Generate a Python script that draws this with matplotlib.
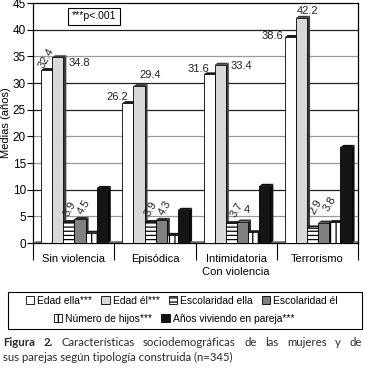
import matplotlib
matplotlib.use("Agg")
import matplotlib.pyplot as plt
from matplotlib.patches import Rectangle, Polygon
import numpy as np

plt.rcParams['font.family'] = ['Liberation Sans', 'DejaVu Sans']
plt.rcParams['hatch.linewidth'] = 0.9

categories = ["Sin violencia", "Episódica", "Intimidatoria", "Terrorismo"]
series_names = ["Edad ella***", "Edad él***", "Escolaridad ella",
                "Escolaridad él", "Número de hijos***", "Años viviendo en pareja***"]
edad_ella = [32.4, 26.2, 31.6, 38.6]
edad_el = [34.8, 29.4, 33.4, 42.2]
escol_ella = [3.9, 3.9, 3.7, 2.9]
escol_el = [4.5, 4.3, 4.0, 3.8]
num_hijos = [1.9, 1.5, 2.0, 3.9]
anios_pareja = [10.3, 6.2, 10.7, 18.0]
values = [edad_ella, edad_el, escol_ella, escol_el, num_hijos, anios_pareja]
yticks = [0, 5, 10, 15, 20, 25, 30, 35, 40, 45]

# styles per series
faces = ['white', '#d8d8d8', 'white', '#808080', 'white', '#151515']
hatches = [None, None, '----', None, '|||', None]
sides = ['#1a1a1a', '#3c3c3c', '#1a1a1a', '#2a2a2a', '#1a1a1a', '#101010']

# label placement (series, category, dx pt, dy pt, rotation, ha)
label_spec = [
    (0, 0, 0, 9, 60, 'center'),
    (1, 0, 7.5, -4, 0, 'left'),
    (2, 0, 0.5, 9.5, 60, 'center'),
    (3, 0, 3, 8.5, 60, 'center'),
    (0, 1, 0.5, 4.5, 0, 'right'),
    (1, 1, 8, 8, 0, 'center'),
    (2, 1, 0.5, 9.5, 60, 'center'),
    (3, 1, 3, 8.5, 60, 'center'),
    (0, 2, 0.5, 4, 0, 'right'),
    (1, 2, 7.5, -1, 0, 'left'),
    (2, 2, 4, 10, 60, 'center'),
    (3, 2, 3, 8.5, 0, 'center'),
    (0, 3, -5, 1, 0, 'right'),
    (1, 3, 4.5, 5, 0, 'center'),
    (2, 3, 2.5, 15, 60, 'center'),
    (3, 3, 4.5, 14, 60, 'center'),
]

fig = plt.figure(figsize=(3.66, 3.68), dpi=100)
ax = fig.add_axes([33/366, 1-243/368, 325/366, 240/368])

ax.set_xlim(0.5, 4.5)
ax.set_ylim(0, 45)

# gridlines, some darker than others
grid_col = {5: '#9a9a9a', 10: '#222', 15: '#9a9a9a', 20: '#9a9a9a',
            25: '#222', 30: '#222', 35: '#9a9a9a', 40: '#222'}
for g, c in grid_col.items():
    ax.axhline(g, color=c, lw=0.9, zorder=0)

# floor
ax.add_patch(Polygon([(0.5, 0), (4.5, 0), (4.54, 0.35), (0.54, 0.35)],
                     closed=True, facecolor='#777', edgecolor='none', zorder=1))

w = 0.137
dx = 0.037
dy = 0.4
z = 2
for ci in range(len(categories)):
    for si, vals in enumerate(values):
        x0 = ci + 1 - 0.401 + si * w
        h = vals[ci]
        ax.add_patch(Polygon([(x0 + w, 0), (x0 + w + dx, dy), (x0 + w + dx, h + dy), (x0 + w, h)],
                             closed=True, facecolor=sides[si], edgecolor='none', zorder=z))
        ax.add_patch(Polygon([(x0, h), (x0 + w, h), (x0 + w + dx, h + dy), (x0 + dx, h + dy)],
                             closed=True, facecolor=sides[si], edgecolor='none', zorder=z))
        ax.add_patch(Rectangle((x0, 0), w, h, facecolor=faces[si], edgecolor='black',
                               hatch=hatches[si], lw=0.6, zorder=z + 0.5))
        z += 1

for si, ci, ox, oy, rot, ha in label_spec:
    x0 = ci + 1 - 0.401 + si * w
    ax.annotate(f"{values[si][ci]:g}", xy=(x0 + w / 2, values[si][ci]),
                xytext=(ox, oy), textcoords='offset points',
                ha=ha, va='center', rotation=rot, rotation_mode='anchor',
                fontsize=8, color='#222', zorder=100)

ax.set_yticks(yticks)
ax.tick_params(axis='y', labelsize=8.5, length=4, width=0.8, pad=1)
ax.set_xticks([1, 2, 3, 4])
ax.set_xticklabels(categories, fontsize=8)
ax.tick_params(axis='x', length=0, pad=8)
ax.set_xticks([0.5, 1.5, 2.5, 3.5, 4.5], minor=True)
ax.tick_params(axis='x', which='minor', length=12, width=0.8)
for sp in ax.spines.values():
    sp.set_linewidth(0.9)
ax.set_ylabel("Medias (años)", fontsize=8, labelpad=1)

ax.text(3, -5.5, "Con violencia", ha='center', va='center', fontsize=8)

ax.text(0.12, 0.965, "***p<.001", transform=ax.transAxes, fontsize=7.5,
        ha='left', va='top',
        bbox=dict(boxstyle='square,pad=0.35', facecolor='white', edgecolor='black', lw=0.8))

# legend box
fig.patches.append(Rectangle((8/366, 1-329/368), 354/366, 37/368, transform=fig.transFigure,
                             facecolor='white', edgecolor='black', lw=0.8))
handles = [Rectangle((0, 0), 1, 1, facecolor=faces[i], edgecolor='black',
                     hatch=hatches[i], lw=0.6) for i in range(6)]
fig.legend(handles[:4], series_names[:4], loc='center', ncol=4,
           bbox_to_anchor=(182/366, 1-301/368), frameon=False, fontsize=7.4,
           handlelength=0.8, handleheight=0.8, handletextpad=0.3, columnspacing=0.9,
           borderpad=0, borderaxespad=0)
fig.legend(handles[4:], series_names[4:], loc='center', ncol=2,
           bbox_to_anchor=(174/366, 1-319/368), frameon=False, fontsize=7.4,
           handlelength=0.8, handleheight=0.8, handletextpad=0.3, columnspacing=0.9,
           borderpad=0, borderaxespad=0)

# caption, first line justified to the figure width
cap_font = dict(fontsize=8.2, family='Lato', va='center', color='#2a2a2a')
line1 = ["Figura", "2.", "Características", "sociodemográficas", "de", "las",
         "mujeres", "y", "de"]
renderer = fig.canvas.get_renderer()
word_texts = []
for i, word in enumerate(line1):
    t = fig.text(0, 1-342/368, word, fontweight='bold' if i < 2 else 'normal', **cap_font)
    word_texts.append(t)
widths = [t.get_window_extent(renderer).width for t in word_texts]
x_left, x_right = 3, 362
gap = (x_right - x_left - sum(widths)) / (len(line1) - 1)
xpos = x_left
for t, wd in zip(word_texts, widths):
    t.set_x(xpos / 366)
    xpos += wd + gap
fig.text(3/366, 1-357/368, "sus parejas según tipología construida (n=345)", **cap_font)

fig.savefig("out.png", dpi=100)
